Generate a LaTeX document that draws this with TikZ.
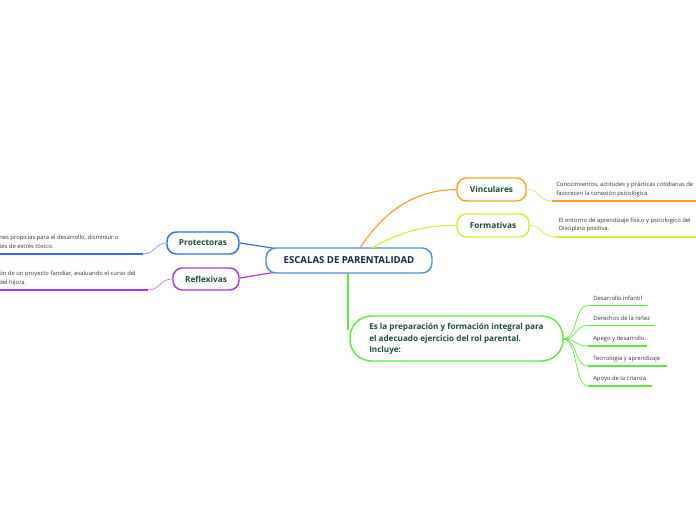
\documentclass[tikz,border=0pt]{standalone}
\usepackage{fontspec}
\setmainfont{Open Sans}
\begin{document}
\begin{tikzpicture}[x=0.75pt,y=-0.75pt,
  mainbox/.style={draw=cBlueC, line width=1.1pt, rounded corners=7.5pt, fill=white, minimum width=166*0.75pt, minimum height=25*0.75pt, inner sep=0pt, font=\bfseries\fontsize{7.2}{8}\selectfont, text=cNavy},
  subbox/.style={line width=1.1pt, rounded corners=7pt, fill=white, inner sep=0pt, minimum height=22*0.75pt, font=\bfseries\fontsize{6.2}{7}\selectfont, text=cTxt},
  leaftxt/.style={anchor=west, inner sep=0pt, font=\fontsize{4.4}{6}\selectfont, text=cLeaf},
  uline/.style={line width=1.6pt},
  conn/.style={line width=0.9pt},
  thin/.style={line width=0.5pt}
]
\definecolor{cBlueC}{HTML}{4A90D2}
\definecolor{cNavy}{HTML}{14284A}
\definecolor{cTxt}{HTML}{1C4A3C}
\definecolor{cLeaf}{HTML}{333333}
\definecolor{cOrange}{HTML}{F7A42C}
\definecolor{cLime}{HTML}{CFF03A}
\definecolor{cBlue}{HTML}{2F6EF2}
\definecolor{cPurple}{HTML}{AE34F2}
\definecolor{cGreen}{HTML}{5EEA3C}
\useasboundingbox (0,0) rectangle (696,520);
\begin{scope}
\clip (0,0) rectangle (696,520);
% coordinates
\coordinate (cc) at (349,260);
\coordinate (oS) at (360,248);
\coordinate (yS) at (372,248);
\coordinate (gS) at (348,273);
\coordinate (gE) at (348,330);
% connectors from center
\draw[conn, draw=cBlue] (cc) -- (240,243) coordinate (pR);
\draw[conn, draw=cPurple] (cc) -- (240,278) coordinate (rR);
\draw[conn, draw=cGreen] (gS) -- (gE);
% central node
\node[mainbox] (center) at (349,260.5) {ESCALAS DE PARENTALIDAD};
% sub nodes
\node[subbox, draw=cOrange, minimum width=69*0.75pt, minimum height=23*0.75pt] (vin) at (491.5,189.5) {Vinculares};
\node[subbox, draw=cLime, minimum width=72*0.75pt, minimum height=23*0.75pt] (for) at (493,225.5) {Formativas};
\node[subbox, draw=cBlue, minimum width=72*0.75pt] (pro) at (203,243) {Protectoras};
\node[subbox, draw=cPurple, minimum width=66*0.75pt] (ref) at (206,279) {Reflexivas};
\node[draw=cGreen, line width=1.1pt, rounded corners=16pt, fill=white, minimum width=213*0.75pt, minimum height=45*0.75pt, inner sep=0pt] (big) at (456.5,338.5) {};
\node[anchor=west, align=left, inner sep=0pt, font=\bfseries\fontsize{6.1}{8.6}\selectfont, text=cTxt] (bigtxt) at (369,339) {Es la preparación y formación integral para\\el adecuado ejercicio del rol parental.\\Incluye:};
% curved connectors from center to right subnodes
\draw[conn, draw=cOrange] (oS) .. controls (385,210) and (415,190) .. (vin.west);
\draw[conn, draw=cLime] (yS) .. controls (400,232) and (425,225) .. (for.west);
% leaves: Vinculares
\coordinate (vU) at (552,201);
\draw[thin, draw=cOrange!60] (vin.east) .. controls (540,189) and (538,201) .. (vU);
\draw[uline, draw=cOrange] (vU) -- (700,201);
\node[leaftxt] (vt1) at (556,185) {Conocimientos, actitudes y prácticas cotidianas de};
\node[leaftxt] (vt2) at (556,193.5) {favorecen la conexión psicológica.};
% leaves: Formativas
\coordinate (fU) at (555,237);
\draw[thin, draw=cLime] (for.east) .. controls (542,225) and (541,237) .. (fU);
\draw[uline, draw=cLime] (fU) -- (700,237);
\node[leaftxt] (ft1) at (558.5,220.5) {El entorno de aprendizaje físico y psicologico del};
\node[leaftxt] (ft2) at (558.5,229) {Disciplina positiva.};
% leaves: Protectoras
\coordinate (pU) at (143,254);
\draw[thin, draw=cBlue!70] (pro.west) .. controls (155,243) and (155,254) .. (pU);
\draw[uline, draw=cBlue] (pU) -- (-5,254);
\node[leaftxt] (pt1) at (-1,237.5) {nes propicias para el desarrollo, disminuir o};
\node[leaftxt] (pt2) at (-1,246.5) {tes de estrés tóxico.};
% leaves: Reflexivas
\coordinate (rU) at (148,290);
\draw[thin, draw=cPurple!70] (ref.west) .. controls (160,279) and (160,290) .. (rU);
\draw[uline, draw=cPurple] (rU) -- (-5,290);
\node[leaftxt] (rt1) at (-1,273.5) {ón de un proyecto familiar, evaluando el curso del};
\node[leaftxt] (rt2) at (-1,282.5) {del hijo/a.};
% green leaves
\coordinate (gO) at (563,339);
\foreach \y/\x/\t/\n in {305.5/647/Desarrollo infantil/a, 325.5/655/Derechos de la niñez/b, 346/647/Apego y desarrollo./c, 366/667/Tecnologia y aprendizaje/d, 386/652/Apoyo de la crianza/e}{
  \coordinate (gl\n) at (588,\y);
  \draw[thin, draw=cGreen] (gO) .. controls (578,339) and (574,\y) .. (gl\n);
  \draw[uline, draw=cGreen, line width=1.3pt] (gl\n) -- (\x,\y);
  \node[leaftxt] (glt\n) at (593,\y-7.5) {\t};
}
\end{scope}
\end{tikzpicture}
\end{document}
